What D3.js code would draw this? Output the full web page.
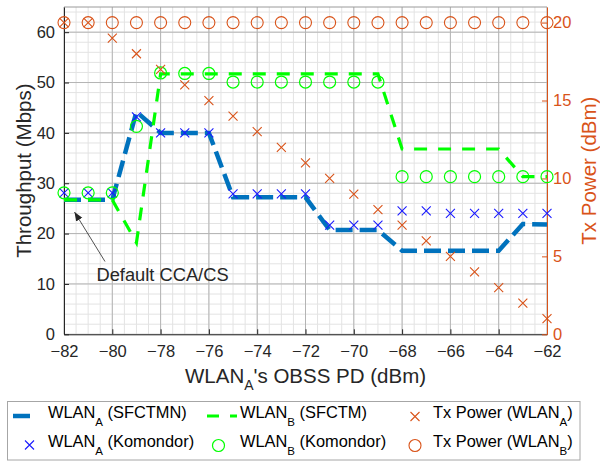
<!DOCTYPE html>
<html>
<head>
<meta charset="utf-8">
<script src="https://cdn.jsdelivr.net/npm/d3@7"></script>
<style>
body { margin: 0; background: #fff; }
svg { font-family: "Liberation Sans", Arial, Helvetica, sans-serif; }
</style>
</head>
<body>
<div id="drawing-area" style="width:600px;height:462px"></div>
<script>
// data
var obssPd = [-82, -81, -80, -79, -78, -77, -76, -75, -74, -73, -72, -71, -70, -69, -68, -67, -66, -65, -64, -63, -62];
var sfctmnA = [26.7, 26.7, 26.7, 44.2, 40, 40, 40, 27.2, 27.2, 27.2, 27.2, 20.7, 20.7, 20.7, 16.6, 16.6, 16.6, 16.6, 16.6, 21.9, 21.8];
var sfctmB = [26.7, 26.7, 26.7, 18.2, 51.7, 51.7, 51.7, 51.7, 51.7, 51.7, 51.7, 51.7, 51.7, 51.7, 36.8, 36.8, 36.8, 36.8, 36.8, 31.3, 31.3];
var komondorA = [28.1, 28.1, 28.1, 43.2, 40, 40, 40, 27.9, 27.9, 27.9, 27.9, 21.7, 21.7, 21.7, 24.5, 24.5, 24.0, 24.0, 24.0, 24.0, 24.0];
var komondorB = [28.1, 28.1, 28.1, 41.3, 51.9, 51.8, 51.8, 50.1, 50.1, 50.1, 50.1, 50.1, 50.1, 50.1, 31.3, 31.3, 31.3, 31.3, 31.3, 31.3, 31.3];
var txPowerA = [20, 20, 19, 18, 17, 16, 15, 14, 13, 12, 11, 10, 9, 8, 7, 6, 5, 4, 3, 2, 1];
var txPowerB = [20, 20, 20, 20, 20, 20, 20, 20, 20, 20, 20, 20, 20, 20, 20, 20, 20, 20, 20, 20, 20];

var xTicks = [-82, -80, -78, -76, -74, -72, -70, -68, -66, -64, -62];
var leftTicks = [0, 10, 20, 30, 40, 50, 60];
var rightTicks = [0, 5, 10, 15, 20];

var BLUE_LINE = "#0072BD", BLUE_MK = "#1a1aff", GREEN = "#00ff00", ORANGE = "#D95319", INK = "#262626";

function drawChart() {
    var sx = 600, sy = 462;
    var svg = d3.select('#drawing-area').append('svg').attr('width', sx).attr('height', sy);

    var left = 64, right = 547, top = 7, bottom = 334.3;
    var x = d3.scaleLinear().domain([-82, -62]).range([left, right]);
    var yL = d3.scaleLinear().domain([0, 65]).range([bottom, top]);
    var yR = d3.scaleLinear().domain([0, 21]).range([bottom, top]);
    var fmt = d3.format("d");

    // minor grid
    var g = svg.append("g");
    var xm = d3.range(-82, -61.9, 0.5), ym = d3.range(0, 65.1, 2);
    g.selectAll("line.xm").data(xm).enter().append("line")
        .attr("x1", function (d) { return x(d); }).attr("x2", function (d) { return x(d); })
        .attr("y1", top).attr("y2", bottom)
        .attr("stroke", "#e3e3e3").attr("stroke-width", 1);
    g.selectAll("line.ym").data(ym).enter().append("line")
        .attr("y1", function (d) { return yL(d); }).attr("y2", function (d) { return yL(d); })
        .attr("x1", left).attr("x2", right)
        .attr("stroke", "#e3e3e3").attr("stroke-width", 1);
    // major grid
    g.selectAll("line.xM").data(xTicks).enter().append("line")
        .attr("x1", function (d) { return x(d); }).attr("x2", function (d) { return x(d); })
        .attr("y1", top).attr("y2", bottom)
        .attr("stroke", "#b4b4b4").attr("stroke-width", 1);
    g.selectAll("line.yM").data(leftTicks).enter().append("line")
        .attr("y1", function (d) { return yL(d); }).attr("y2", function (d) { return yL(d); })
        .attr("x1", left).attr("x2", right)
        .attr("stroke", "#b4b4b4").attr("stroke-width", 1);

    // top border
    svg.append("line").attr("x1", left).attr("x2", right).attr("y1", top).attr("y2", top)
        .attr("stroke", "#9a9a9a").attr("stroke-width", 1);

    // axes
    var ax = svg.append("g").attr("transform", "translate(0," + bottom + ")")
        .call(d3.axisBottom(x).tickValues(xTicks).tickFormat(fmt).tickSizeInner(-5).tickSizeOuter(0).tickPadding(10.5));
    var ayl = svg.append("g").attr("transform", "translate(" + left + ",0)")
        .call(d3.axisLeft(yL).tickValues(leftTicks).tickFormat(fmt).tickSizeInner(-5).tickSizeOuter(0).tickPadding(9));
    var ayr = svg.append("g").attr("transform", "translate(" + right + ",0)")
        .call(d3.axisRight(yR).tickValues(rightTicks).tickFormat(fmt).tickSizeInner(-5).tickSizeOuter(0).tickPadding(6));

    [ax, ayl].forEach(function (a) {
        a.selectAll("path").attr("stroke", INK);
        a.selectAll("line").attr("stroke", INK);
        a.selectAll("text").attr("fill", INK).attr("font-size", 16.5).attr("font-family", null);
    });
    ayr.selectAll("path").attr("stroke", ORANGE);
    ayr.selectAll("line").attr("stroke", ORANGE);
    ayr.selectAll("text").attr("fill", ORANGE).attr("font-size", 16.5).attr("font-family", null);

    // lines
    function lineOf(vals, y) {
        return d3.line().x(function (d, i) { return x(obssPd[i]); }).y(function (d) { return y(d); })(vals);
    }
    svg.append("path").attr("d", lineOf(sfctmnA, yL))
        .attr("fill", "none").attr("stroke", BLUE_LINE).attr("stroke-width", 4.5)
        .attr("stroke-dasharray", "17,7");
    svg.append("path").attr("d", lineOf(sfctmB, yL))
        .attr("fill", "none").attr("stroke", GREEN).attr("stroke-width", 3.2)
        .attr("stroke-dasharray", "13,11");

    function cross(sel, color) {
        sel.append("path").attr("d", "M-4.5,-4.5L4.5,4.5M-4.5,4.5L4.5,-4.5")
            .attr("stroke", color).attr("stroke-width", 1.1).attr("fill", "none");
    }

    // markers
    var mA = svg.selectAll("g.ka").data(komondorA).enter().append("g")
        .attr("transform", function (d, i) { return "translate(" + x(obssPd[i]) + "," + yL(d) + ")"; });
    cross(mA, BLUE_MK);
    svg.selectAll("circle.kb").data(komondorB).enter().append("circle")
        .attr("cx", function (d, i) { return x(obssPd[i]); }).attr("cy", function (d) { return yL(d); })
        .attr("r", 6).attr("fill", "none").attr("stroke", GREEN).attr("stroke-width", 1.2);
    var tA = svg.selectAll("g.ta").data(txPowerA).enter().append("g")
        .attr("transform", function (d, i) { return "translate(" + x(obssPd[i]) + "," + yR(d) + ")"; });
    cross(tA, ORANGE);
    svg.selectAll("circle.tb").data(txPowerB).enter().append("circle")
        .attr("cx", function (d, i) { return x(obssPd[i]); }).attr("cy", function (d) { return yR(d); })
        .attr("r", 6).attr("fill", "none").attr("stroke", ORANGE).attr("stroke-width", 1.1);

    // axis labels
    var xl = svg.append("text").attr("x", (left + right) / 2).attr("y", 383).attr("text-anchor", "middle")
        .attr("font-size", 20.5).attr("fill", INK);
    xl.append("tspan").text("WLAN");
    xl.append("tspan").attr("font-size", 14).attr("dy", 7).text("A");
    xl.append("tspan").attr("dy", -7).text("'s OBSS PD (dBm)");

    svg.append("text").attr("transform", "translate(31," + (top + bottom) / 2 + ") rotate(-90)")
        .attr("text-anchor", "middle").attr("font-size", 20.5).attr("fill", INK).text("Throughput (Mbps)");
    svg.append("text").attr("transform", "translate(596," + (top + bottom) / 2 + ") rotate(-90)")
        .attr("text-anchor", "middle").attr("font-size", 20.5).attr("fill", ORANGE).text("Tx Power (dBm)");

    // annotation
    svg.append("defs").append("marker").attr("id", "arr")
        .attr("viewBox", "0 0 10 10").attr("refX", 10).attr("refY", 5)
        .attr("markerWidth", 9).attr("markerHeight", 9).attr("markerUnits", "userSpaceOnUse")
        .attr("orient", "auto")
        .append("path").attr("d", "M0,1L10,5L0,9Z").attr("fill", INK);
    svg.append("line").attr("x1", 105).attr("y1", 261.5).attr("x2", 74.5).attr("y2", 212)
        .attr("stroke", INK).attr("stroke-width", 0.8).attr("marker-end", "url(#arr)");
    svg.append("text").attr("x", 96.5).attr("y", 280.5).attr("font-size", 18.3).attr("fill", INK)
        .text("Default CCA/CS");

    // legend
    var lg = svg.append("g");
    lg.append("rect").attr("x", 7.5).attr("y", 401.5).attr("width", 572.5).attr("height", 58.5)
        .attr("fill", "#fff").attr("stroke", "#a6a6a6").attr("stroke-width", 1);
    var r1 = 418.3, r2 = 446.7, fs = 16.4;
    function label(xp, yp, main, sub, rest) {
        var t = lg.append("text").attr("x", xp).attr("y", yp).attr("font-size", fs).attr("fill", "#000");
        t.append("tspan").text(main);
        t.append("tspan").attr("font-size", 11.5).attr("dy", 8).text(sub);
        t.append("tspan").attr("dy", -8).text(rest);
    }
    lg.append("line").attr("x1", 13).attr("x2", 36).attr("y1", 416).attr("y2", 416)
        .attr("stroke", BLUE_LINE).attr("stroke-width", 4.5).attr("stroke-dasharray", "17,7");
    label(48, r1, "WLAN", "A", " (SFCTMN)");
    cross(lg.append("g").attr("transform", "translate(29.5,445)"), BLUE_MK);
    label(48, r2, "WLAN", "A", " (Komondor)");

    lg.append("line").attr("x1", 207).attr("x2", 237).attr("y1", 416).attr("y2", 416)
        .attr("stroke", GREEN).attr("stroke-width", 3.2).attr("stroke-dasharray", "12,11");
    label(240, r1, "WLAN", "B", " (SFCTM)");
    lg.append("circle").attr("cx", 218.5).attr("cy", 445.5).attr("r", 6)
        .attr("fill", "none").attr("stroke", GREEN).attr("stroke-width", 1.2);
    label(240, r2, "WLAN", "B", " (Komondor)");

    cross(lg.append("g").attr("transform", "translate(415,416.5)"), ORANGE);
    label(433, r1, "Tx Power (WLAN", "A", ")");
    lg.append("circle").attr("cx", 415).attr("cy", 445.5).attr("r", 6)
        .attr("fill", "none").attr("stroke", ORANGE).attr("stroke-width", 1.1);
    label(433, r2, "Tx Power (WLAN", "B", ")");
}

drawChart();
</script>
</body>
</html>
